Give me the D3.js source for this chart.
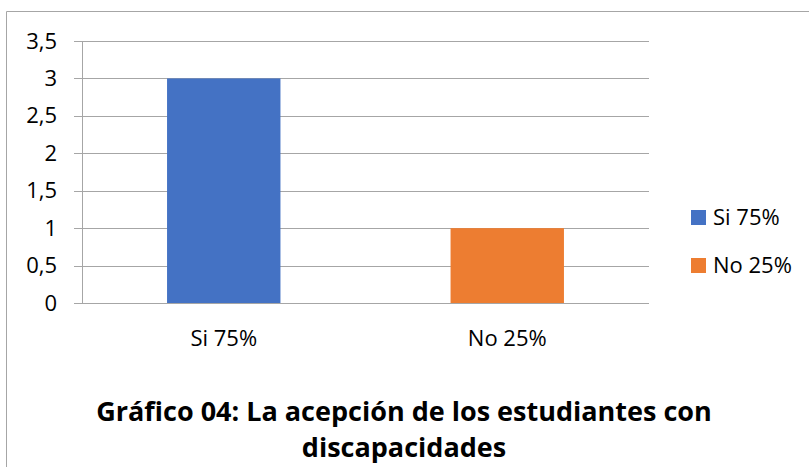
<!DOCTYPE html>
<html lang="es">
<head>
<meta charset="UTF-8">
<title>Gráfico 04</title>
<script src="https://cdn.jsdelivr.net/npm/d3@7"></script>
<style>
  body { margin: 0; background: #fff; }
  svg { display: block; }
  svg text { font-family: "Open Sans", sans-serif; fill: #000; }
  .grid line { stroke: #a6a6a6; stroke-width: 1; shape-rendering: crispEdges; }
  .yAxis text { font-size: 22px; }
  .xLabel { font-size: 22px; }
  .legendText { font-size: 22px; }
  .title { font-size: 27px; font-weight: bold; }
</style>
</head>
<body>
<div id="root"></div>
<script>
  // datos
  const categories = ["Si 75%", "No 25%"]
  const values = [3, 1]
  const colors = ["#4472C4", "#ED7D31"]
  const yTicks = [0, 0.5, 1, 1.5, 2, 2.5, 3, 3.5]
  const titleLines = ["Gráfico 04: La acepción de los estudiantes con", "discapacidades"]

  const width = 809, height = 467
  const plot = { left: 82, right: 649, top: 41, bottom: 303 }

  const svg = d3.select("#root").append("svg").attr("width", width).attr("height", height)

  // marco (sólo se ven arriba e izquierda)
  svg.append("path")
     .attr("d", `M6.5,${height} V11.5 H${width}`)
     .attr("fill", "none").attr("stroke", "#a6a6a6").attr("stroke-width", 1)

  const xScale = d3.scaleBand().domain(categories).range([plot.left, plot.right])
  const yScale = d3.scaleLinear().domain([0, 3.5]).range([plot.bottom, plot.top])

  // lineas de cuadricula
  const grid = svg.append("g").attr("class", "grid")
  grid.selectAll("line.h").data(yTicks).enter().append("line")
      .attr("x1", plot.left - 8).attr("x2", plot.right)
      .attr("y1", d => Math.round(yScale(d)) + 0.5)
      .attr("y2", d => Math.round(yScale(d)) + 0.5)
  grid.append("line")
      .attr("x1", plot.left + 0.5).attr("x2", plot.left + 0.5)
      .attr("y1", plot.top).attr("y2", plot.bottom)

  // eje y
  const yAxis = d3.axisLeft(yScale).tickValues(yTicks).tickSize(0).tickPadding(0)
      .tickFormat(d => String(d).replace(".", ","))
  svg.append("g").attr("class", "yAxis")
     .attr("transform", `translate(${plot.left - 25},0)`)
     .call(yAxis)
     .call(g => g.select(".domain").remove())

  // barras
  const barW = xScale.bandwidth() * 0.4
  svg.append("g").selectAll("rect").data(values).enter().append("rect")
     .attr("x", (d, i) => xScale(categories[i]) + (xScale.bandwidth() - barW) / 2)
     .attr("y", d => yScale(d))
     .attr("width", barW)
     .attr("height", d => plot.bottom - yScale(d))
     .attr("fill", (d, i) => colors[i])

  // etiquetas eje x
  svg.append("g").selectAll("text").data(categories).enter().append("text")
     .attr("class", "xLabel")
     .attr("x", d => xScale(d) + xScale.bandwidth() / 2)
     .attr("y", 346)
     .attr("text-anchor", "middle")
     .text(d => d)

  // leyenda
  const legend = svg.append("g").selectAll("g").data(categories).enter().append("g")
     .attr("transform", (d, i) => `translate(691,${210 + i * 48})`)
  legend.append("rect").attr("width", 15).attr("height", 15).attr("fill", (d, i) => colors[i])
  legend.append("text").attr("class", "legendText")
     .attr("x", 22).attr("y", 15).text(d => d)

  // titulo
  svg.append("g").selectAll("text").data(titleLines).enter().append("text")
     .attr("class", "title")
     .attr("x", 404).attr("y", (d, i) => 421 + i * 36)
     .attr("text-anchor", "middle")
     .text(d => d)
</script>
</body>
</html>
